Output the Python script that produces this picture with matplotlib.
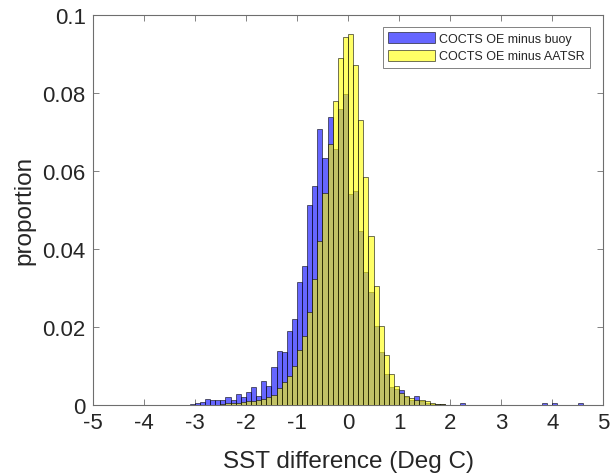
import numpy as np
import matplotlib
matplotlib.use("Agg")
import matplotlib.pyplot as plt

plt.rcParams['font.family'] = ['Liberation Sans', 'DejaVu Sans']

# ---- data (bin width 0.1, values = proportion per bin) ----
bin_width = 0.1

# COCTS OE minus buoy : bins starting at -3.1
buoy_first_edge = -3.1
buoy_props = [
    0.0003, 0.0004, 0.0008, 0.0015, 0.0012, 0.0012, 0.0012, 0.0020, 0.0012, 0.0027,   # -3.1 .. -2.2
    0.0021, 0.0033, 0.0045, 0.0024, 0.0061, 0.0048, 0.0097, 0.0139, 0.0135, 0.0189,   # -2.1 .. -1.2
    0.0220, 0.0315, 0.0356, 0.0512, 0.0562, 0.0708, 0.0633, 0.0737, 0.0655, 0.0759,   # -1.1 .. -0.2
    0.0798, 0.0540, 0.0547, 0.0447, 0.0340, 0.0290, 0.0203, 0.0135, 0.0079, 0.0045,   # -0.1 .. 0.8
    0.0040, 0.0037, 0.0020, 0.0013, 0.0024, 0.0009, 0.0005, 0.0003, 0.0002, 0.0002,   # 0.9 .. 1.8
]
buoy_outlier_edges = [2.2, 3.8, 4.0, 4.5]
buoy_outlier_props = [0.0004, 0.0004, 0.0004, 0.0004]

# COCTS OE minus AATSR : bins starting at -2.5
aatsr_first_edge = -2.5
aatsr_props = [
    0.0003, 0.0004, 0.0005, 0.0006, 0.0008, 0.0010, 0.0010, 0.0012, 0.0016, 0.0021,   # -2.5 .. -1.6
    0.0026, 0.0043, 0.0058, 0.0075, 0.0099, 0.0140, 0.0176, 0.0238, 0.0323, 0.0419,   # -1.5 .. -0.6
    0.0543, 0.0668, 0.0780, 0.0889, 0.0943, 0.0951, 0.0872, 0.0729, 0.0584, 0.0434,   # -0.5 .. 0.4
    0.0306, 0.0203, 0.0128, 0.0079, 0.0049, 0.0030, 0.0024, 0.0017, 0.0013, 0.0013,   # 0.5 .. 1.4
    0.0009, 0.0004, 0.0003, 0.0002, 0.0001,                                           # 1.5 .. 1.9
]

series_labels = ['COCTS OE minus buoy', 'COCTS OE minus AATSR']
x_ticks = [-5, -4, -3, -2, -1, 0, 1, 2, 3, 4, 5]
y_ticks = [0, 0.02, 0.04, 0.06, 0.08, 0.1]
y_tick_labels = ['0', '0.02', '0.04', '0.06', '0.08', '0.1']

# ---- figure ----
fig = plt.figure(figsize=(6.10, 4.77), dpi=100)
ax = fig.add_axes([0.152, 0.149, 0.837, 0.818])

blue_face = (0.0, 0.0, 1.0, 0.6)
yellow_face = (1.0, 1.0, 0.0, 0.6)
edge = (0.0, 0.0, 0.0, 0.65)

buoy_edges = buoy_first_edge + bin_width * np.arange(len(buoy_props))
buoy_edges = np.concatenate([buoy_edges, buoy_outlier_edges])
buoy_vals = np.concatenate([buoy_props, buoy_outlier_props])
aatsr_edges = aatsr_first_edge + bin_width * np.arange(len(aatsr_props))

ax.bar(buoy_edges, buoy_vals, width=bin_width, align='edge',
       facecolor=blue_face, edgecolor=edge, linewidth=0.6,
       label=series_labels[0], zorder=2)
ax.bar(aatsr_edges, aatsr_props, width=bin_width, align='edge',
       facecolor=yellow_face, edgecolor=edge, linewidth=0.6,
       label=series_labels[1], zorder=3)

ax.set_xlim(-5, 5)
ax.set_ylim(0, 0.1)
ax.set_xticks(x_ticks)
ax.set_xticklabels([str(t) for t in x_ticks])
ax.set_yticks(y_ticks)
ax.set_yticklabels(y_tick_labels)

axis_col = '#262626'
for s in ax.spines.values():
    s.set_color('#6e6e6e')
    s.set_linewidth(0.8)
ax.tick_params(direction='in', length=4, width=0.6, color='#6e6e6e',
               labelsize=16, labelcolor=axis_col, top=True, right=True, pad=5)

ax.set_xlabel('SST difference (Deg C)', fontsize=17.5, color=axis_col, labelpad=12)
ax.set_ylabel('proportion', fontsize=17.5, color=axis_col, labelpad=5)

leg = ax.legend(loc='upper right', bbox_to_anchor=(0.9745, 0.9685), borderaxespad=0,
                fontsize=9, frameon=True, fancybox=False, framealpha=1,
                edgecolor='#6e6e6e', handlelength=3.7, handleheight=1.0,
                handletextpad=0.38, borderpad=0.42, labelspacing=0.35)
leg.get_frame().set_linewidth(0.6)
for t in leg.get_texts():
    t.set_color(axis_col)

fig.savefig('out.png', dpi=100)
